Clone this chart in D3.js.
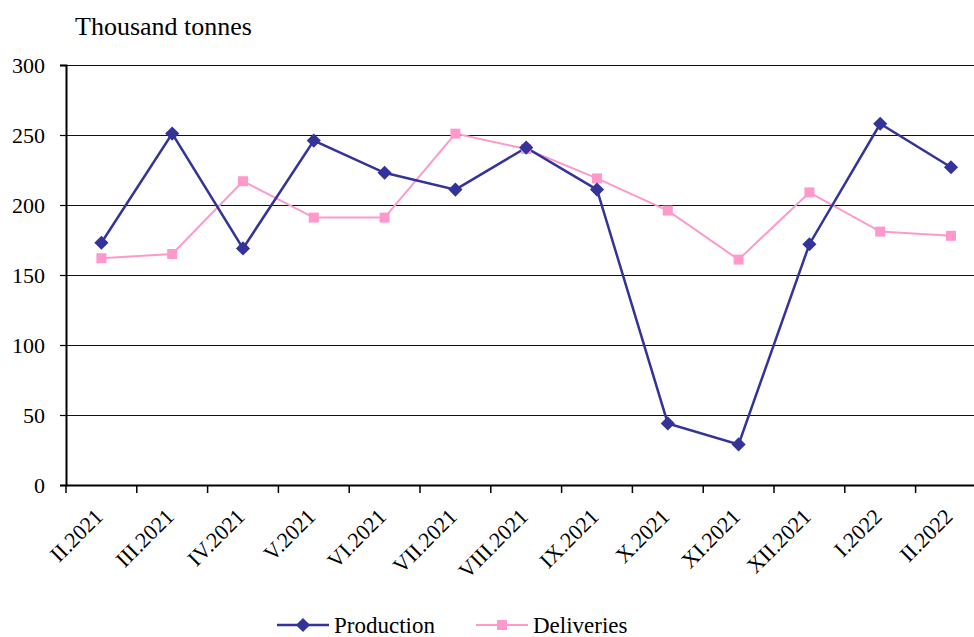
<!DOCTYPE html>
<html>
  <head>
    <meta charset="UTF-8" />
    <style>
      body { margin: 0; background: #fff; }
    </style>
  </head>
  <body>
    <svg></svg>
    <script src="https://d3js.org/d3.v7.min.js"></script>
    <script>
      const months = ["II.2021", "III.2021", "IV.2021", "V.2021", "VI.2021", "VII.2021",
        "VIII.2021", "IX.2021", "X.2021", "XI.2021", "XII.2021", "I.2022", "II.2022"];
      const production = [173, 251, 169, 246, 223, 211, 241, 211, 44, 29, 172, 258, 227];
      const deliveries = [162, 165, 217, 191, 191, 251, 240, 219, 196, 161, 209, 181, 178];
      const yTicks = [0, 50, 100, 150, 200, 250, 300];

      const serif = "'Liberation Serif', 'Times New Roman', serif";
      let width = 974, height = 637;
      let svg = d3.select("svg").attr("width", width).attr("height", height)
        .style("display", "block");

      const plotLeft = 66, plotTop = 65, plotBottom = 485;
      const x = d3.scaleBand().domain(months).range([plotLeft, plotLeft + 70.8 * months.length]);
      const y = d3.scaleLinear().domain([0, 300]).range([plotBottom, plotTop]);

      // grid lines
      svg.append("g")
        .selectAll("line")
        .data(yTicks)
        .enter()
        .append("line")
        .attr("x1", plotLeft)
        .attr("x2", width)
        .attr("y1", (d) => y(d) + 0.5)
        .attr("y2", (d) => y(d) + 0.5)
        .attr("stroke", "#111")
        .attr("stroke-width", 1);

      // y axis
      const yAxis = svg.append("g")
        .attr("transform", "translate(" + plotLeft + ",0)")
        .call(d3.axisLeft(y).tickValues(yTicks).tickSize(6).tickPadding(15));
      yAxis.select(".domain").attr("stroke", "#000").attr("stroke-width", 2);
      yAxis.selectAll(".tick line").attr("stroke", "#000").attr("stroke-width", 1.2);
      yAxis.selectAll("text")
        .style("font-family", serif)
        .style("font-size", "22px")
        .attr("fill", "#000");

      // x axis
      const xAxis = svg.append("g")
        .attr("transform", "translate(0," + plotBottom + ")")
        .call(d3.axisBottom(x).tickSize(0).tickFormat(""));
      xAxis.select(".domain").attr("stroke", "#000").attr("stroke-width", 2);

      svg.append("g")
        .selectAll("line")
        .data(months)
        .enter()
        .append("line")
        .attr("x1", (d) => x(d))
        .attr("x2", (d) => x(d))
        .attr("y1", plotBottom)
        .attr("y2", plotBottom + 8)
        .attr("stroke", "#000")
        .attr("stroke-width", 1.5);

      svg.append("g")
        .selectAll("text")
        .data(months)
        .enter()
        .append("text")
        .attr("transform", (d) =>
          "translate(" + (x(d) + x.bandwidth() / 2 + 3) + "," + (plotBottom + 33) + ") rotate(-45)")
        .attr("text-anchor", "end")
        .style("font-family", serif)
        .style("font-size", "22px")
        .text((d) => d);

      // title
      svg.append("text")
        .attr("x", 75)
        .attr("y", 35)
        .style("font-family", serif)
        .style("font-size", "26px")
        .text("Thousand tonnes");

      const cx = (d, i) => x(months[i]) + x.bandwidth() / 2;
      const line = d3.line().x((d, i) => cx(d, i)).y((d) => y(d));

      const pink = "#ff99cc", blue = "#333399";

      svg.append("path")
        .datum(deliveries)
        .attr("d", line)
        .attr("fill", "none")
        .attr("stroke", pink)
        .attr("stroke-width", 2);

      svg.append("path")
        .datum(production)
        .attr("d", line)
        .attr("fill", "none")
        .attr("stroke", blue)
        .attr("stroke-width", 2.5);

      svg.append("g")
        .selectAll("rect")
        .data(deliveries)
        .enter()
        .append("rect")
        .attr("x", (d, i) => cx(d, i) - 5)
        .attr("y", (d) => y(d) - 5)
        .attr("width", 10)
        .attr("height", 10)
        .attr("fill", pink);

      const diamond = d3.symbol().type(d3.symbolSquare).size(100);
      svg.append("g")
        .selectAll("path")
        .data(production)
        .enter()
        .append("path")
        .attr("transform", (d, i) => "translate(" + cx(d, i) + "," + y(d) + ") rotate(45)")
        .attr("d", diamond)
        .attr("fill", blue);

      // legend
      const legend = svg.append("g");
      const ly = 625;
      legend.append("line").attr("x1", 277).attr("x2", 329).attr("y1", ly).attr("y2", ly)
        .attr("stroke", blue).attr("stroke-width", 2.5);
      legend.append("path").attr("transform", "translate(303," + ly + ") rotate(45)")
        .attr("d", diamond).attr("fill", blue);
      legend.append("text").attr("x", 334).attr("y", 633)
        .style("font-family", serif).style("font-size", "23px").text("Production");

      legend.append("line").attr("x1", 476).attr("x2", 528).attr("y1", ly).attr("y2", ly)
        .attr("stroke", pink).attr("stroke-width", 2);
      legend.append("rect").attr("x", 497).attr("y", ly - 5).attr("width", 10).attr("height", 10)
        .attr("fill", pink);
      legend.append("text").attr("x", 533).attr("y", 633)
        .style("font-family", serif).style("font-size", "23px").text("Deliveries");
    </script>
  </body>
</html>
